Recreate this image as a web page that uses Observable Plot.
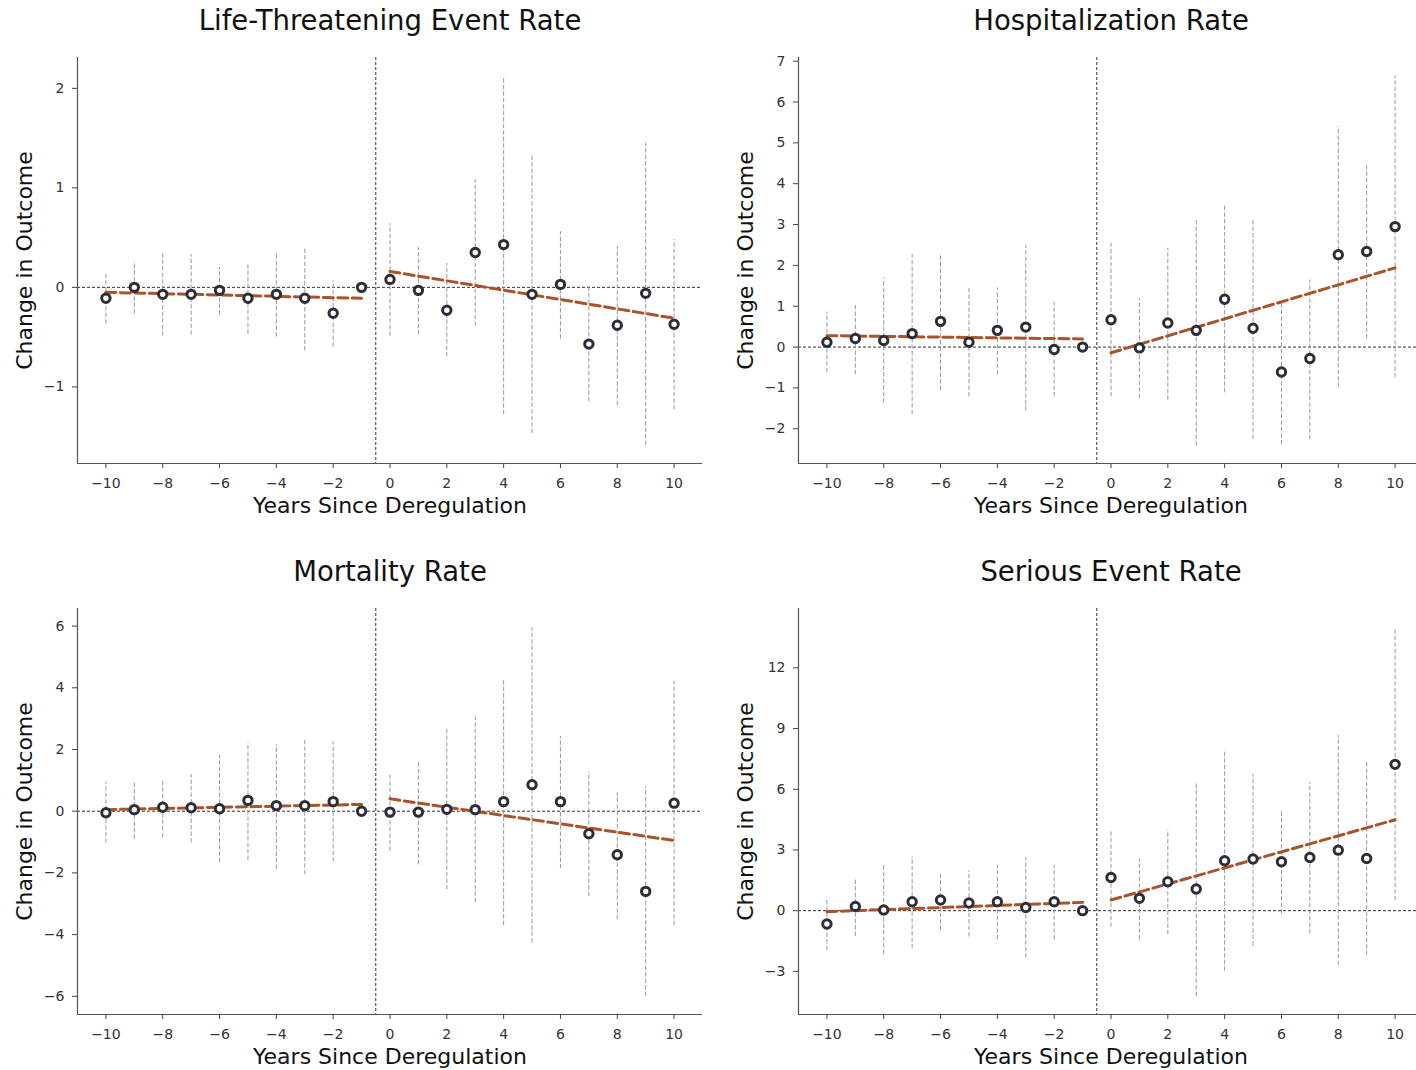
<!DOCTYPE html>
<html>
<head>
<meta charset="utf-8">
<script src="https://cdn.jsdelivr.net/npm/d3@7"></script>
<script src="https://cdn.jsdelivr.net/npm/@observablehq/plot@0.6"></script>
<style>
  html, body { margin: 0; padding: 0; background: #fff; overflow: hidden; }
  #root { position: relative; width: 1416px; height: 1070px; overflow: hidden; font-family: "DejaVu Sans", sans-serif; }
  .panel { position: absolute; width: 720px; }
  .panel svg { overflow: visible; max-width: none !important; }
</style>
</head>
<body>
<div id="root"></div>
<script>
// ---- Data ----
const years = [-10, -9, -8, -7, -6, -5, -4, -3, -2, -1, 0, 1, 2, 3, 4, 5, 6, 7, 8, 9, 10];
const xTicks = [-10, -8, -6, -4, -2, 0, 2, 4, 6, 8, 10];
const xDomain = [-11, 11];
const cutoff = -0.5;
const preYears = [-10, -1];
const postYears = [0, 10];

// Life-Threatening Event Rate
const lifeEst = [-0.11, 0.00, -0.07, -0.07, -0.03, -0.11, -0.07, -0.11, -0.26, 0.00, 0.08, -0.03, -0.23, 0.35, 0.43, -0.07, 0.03, -0.57, -0.38, -0.06, -0.37];
const lifeLo  = [-0.37, -0.27, -0.49, -0.48, -0.28, -0.47, -0.50, -0.64, -0.60, null, -0.49, -0.48, -0.70, -0.39, -1.28, -1.47, -0.52, -1.15, -1.19, -1.59, -1.23];
const lifeHi  = [0.15, 0.26, 0.34, 0.33, 0.20, 0.24, 0.35, 0.39, 0.07, null, 0.64, 0.40, 0.24, 1.08, 2.12, 1.32, 0.56, 0.02, 0.41, 1.45, 0.48];
const lifeTrendPre = [-0.05, -0.11];
const lifeTrendPost = [0.16, -0.31];
const lifeYTicks = [-1, 0, 1, 2];
const lifeYDomain = [-1.77, 2.31];

// Hospitalization Rate
const hospEst = [0.12, 0.21, 0.16, 0.33, 0.63, 0.12, 0.41, 0.49, -0.06, 0.00, 0.67, -0.02, 0.59, 0.41, 1.17, 0.46, -0.61, -0.28, 2.26, 2.34, 2.95];
const hospLo  = [-0.63, -0.68, -1.37, -1.65, -1.06, -1.22, -0.69, -1.57, -1.22, null, -1.22, -1.26, -1.30, -2.42, -1.12, -2.26, -2.39, -2.27, -0.99, 0.20, -0.75];
const hospHi  = [0.86, 1.04, 1.69, 2.27, 2.29, 1.45, 1.45, 2.49, 1.10, null, 2.55, 1.18, 2.42, 3.16, 3.45, 3.14, 1.08, 1.64, 5.40, 4.45, 6.64];
const hospTrendPre = [0.28, 0.20];
const hospTrendPost = [-0.14, 1.94];
const hospYTicks = [-2, -1, 0, 1, 2, 3, 4, 5, 6, 7];
const hospYDomain = [-2.85, 7.09];

// Mortality Rate
const mortEst = [-0.05, 0.05, 0.13, 0.11, 0.08, 0.35, 0.18, 0.18, 0.31, 0.00, -0.03, -0.03, 0.06, 0.05, 0.31, 0.86, 0.31, -0.73, -1.41, -2.60, 0.26];
const mortLo  = [-1.04, -0.92, -0.86, -1.03, -1.67, -1.60, -1.89, -2.06, -1.65, null, -1.30, -1.74, -2.55, -2.97, -3.71, -4.28, -1.87, -2.77, -3.52, -6.01, -3.71];
const mortHi  = [0.94, 0.96, 1.03, 1.19, 1.81, 2.22, 2.16, 2.35, 2.24, null, 1.18, 1.64, 2.69, 3.05, 4.27, 5.95, 2.42, 1.26, 0.60, 0.78, 4.21];
const mortTrendPre = [0.05, 0.22];
const mortTrendPost = [0.40, -0.95];
const mortYTicks = [-6, -4, -2, 0, 2, 4, 6];
const mortYDomain = [-6.59, 6.57];

// Serious Event Rate
const serEst = [-0.66, 0.21, 0.03, 0.44, 0.53, 0.38, 0.44, 0.16, 0.44, 0.00, 1.64, 0.61, 1.43, 1.07, 2.47, 2.55, 2.42, 2.63, 2.99, 2.58, 7.23];
const serLo  = [-1.97, -1.28, -2.17, -1.89, -0.99, -1.31, -1.45, -2.35, -1.45, null, -0.82, -1.45, -1.20, -4.24, -2.99, -1.76, -0.16, -1.15, -2.71, -2.22, 0.49];
const serHi  = [0.63, 1.56, 2.25, 2.66, 1.89, 1.97, 2.25, 2.63, 2.25, null, 3.98, 2.55, 3.99, 6.33, 7.89, 6.74, 4.90, 6.33, 8.66, 7.31, 13.97];
const serTrendPre = [-0.05, 0.41];
const serTrendPost = [0.53, 4.49];
const serYTicks = [-3, 0, 3, 6, 9, 12];
const serYDomain = [-5.13, 14.93];

// ---- Layout ----
const panels = [
  {title: "Life-Threatening Event Rate", est: lifeEst, lo: lifeLo, hi: lifeHi, pre: lifeTrendPre, post: lifeTrendPost, yTicks: lifeYTicks, yDomain: lifeYDomain,
   left: 0, top: 0, width: 708, height: 530, mL: 77, mR: 6, mT: 57, mB: 67},
  {title: "Hospitalization Rate", est: hospEst, lo: hospLo, hi: hospHi, pre: hospTrendPre, post: hospTrendPost, yTicks: hospYTicks, yDomain: hospYDomain,
   left: 716, top: 0, width: 707, height: 530, mL: 82, mR: 0, mT: 57, mB: 67},
  {title: "Mortality Rate", est: mortEst, lo: mortLo, hi: mortHi, pre: mortTrendPre, post: mortTrendPost, yTicks: mortYTicks, yDomain: mortYDomain,
   left: 0, top: 540, width: 708, height: 530, mL: 77, mR: 6, mT: 68, mB: 56},
  {title: "Serious Event Rate", est: serEst, lo: serLo, hi: serHi, pre: serTrendPre, post: serTrendPost, yTicks: serYTicks, yDomain: serYDomain,
   left: 716, top: 540, width: 707, height: 530, mL: 82, mR: 0, mT: 68, mB: 56}
];

const root = document.getElementById("root");
const font = "DejaVu Sans";
const fmt = d => (d < 0 ? "\u2212" : "") + Math.abs(d);

for (const p of panels) {
  const rows = years.map((yr, i) => ({year: yr, est: p.est[i], lo: p.lo[i], hi: p.hi[i]}));
  const ciRows = rows.filter(d => d.lo != null && d.hi != null);
  const trend = [
    ...preYears.map((yr, i) => ({year: yr, v: p.pre[i], seg: "pre"})),
    ...postYears.map((yr, i) => ({year: yr, v: p.post[i], seg: "post"}))
  ];

  const chart = Plot.plot({
    width: p.width,
    height: p.height,
    marginLeft: p.mL,
    marginRight: p.mR,
    marginTop: p.mT,
    marginBottom: p.mB,
    style: {fontFamily: font, fontSize: "14px", color: "#333", background: "transparent", overflow: "visible", maxWidth: "none"},
    x: {domain: xDomain},
    y: {domain: p.yDomain},
    marks: [
      Plot.ruleY([0], {stroke: "#333", strokeWidth: 1, strokeDasharray: "3,2"}),
      Plot.ruleX([cutoff], {stroke: "#333", strokeWidth: 1, strokeDasharray: "3,2"}),
      Plot.ruleX(ciRows, {x: "year", y1: "lo", y2: "hi", stroke: "#9a9a9a", strokeWidth: 1, strokeDasharray: "4.5,2"}),
      Plot.line(trend, {x: "year", y: "v", z: "seg", stroke: "#a9532b", strokeWidth: 3, strokeDasharray: "10,4.5"}),
      Plot.dot(rows, {x: "year", y: "est", r: 4.2, stroke: "#2d2d38", strokeWidth: 3, fill: "white"}),
      // spines (left and bottom)
      Plot.ruleX([xDomain[0]], {stroke: "#555", strokeWidth: 1.2}),
      Plot.ruleY([p.yDomain[0]], {stroke: "#555", strokeWidth: 1.2}),
      Plot.axisX({ticks: xTicks, tickFormat: fmt, tickSize: 5, tickPadding: 10, fontSize: 14, label: null, stroke: "#444", fill: "#333"}),
      Plot.axisY({ticks: p.yTicks, tickFormat: fmt, tickSize: 5, tickPadding: 8, fontSize: 14, label: null, stroke: "#444", fill: "#333"}),
      Plot.text([p.title], {text: d => d, frameAnchor: "top", lineAnchor: "middle", textAnchor: "middle", dy: -36, fontSize: 27.5, fill: "#111"}),
      Plot.text(["Years Since Deregulation"], {text: d => d, frameAnchor: "bottom", lineAnchor: "middle", textAnchor: "middle", dy: 42, fontSize: 22, fill: "#111"}),
      Plot.text(["Change in Outcome"], {text: d => d, frameAnchor: "left", lineAnchor: "middle", textAnchor: "middle", dx: -53, rotate: -90, fontSize: 22, fill: "#111"})
    ]
  });

  const div = document.createElement("div");
  div.className = "panel";
  div.style.left = p.left + "px";
  div.style.top = p.top + "px";
  div.appendChild(chart);
  root.appendChild(div);
}
</script>
</body>
</html>
